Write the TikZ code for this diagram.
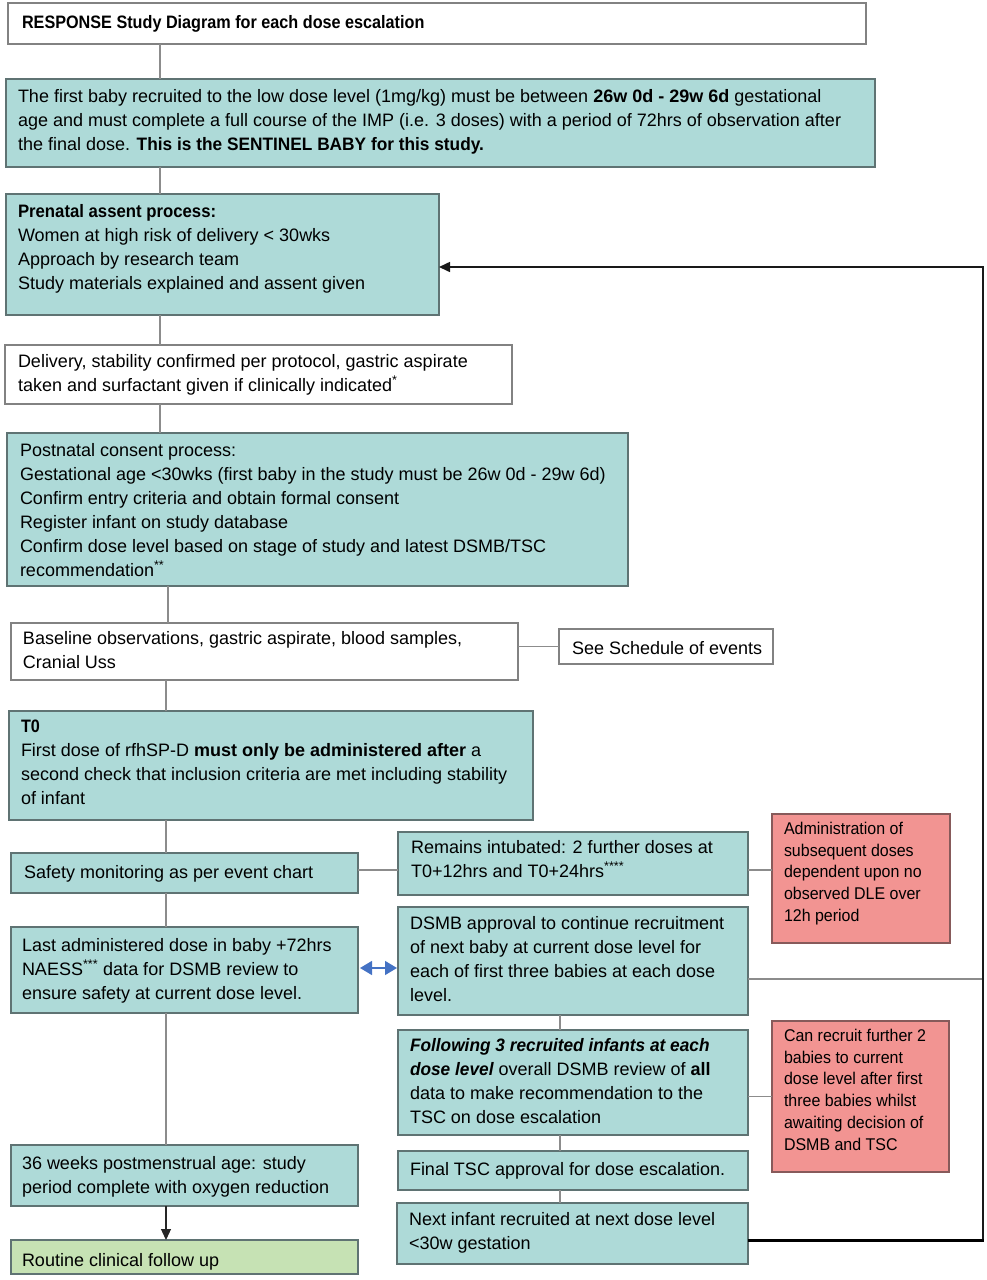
\documentclass[tikz,border=0pt]{standalone}
\usepackage{fontspec}
\setmainfont{Liberation Sans}
\newfontfamily\condA[FakeStretch=0.9]{Liberation Sans}
\newfontfamily\condB[FakeStretch=0.93]{Liberation Sans}
\newfontfamily\condC[FakeStretch=0.96]{Liberation Sans}
\newfontfamily\narrowfont[FakeStretch=0.94]{Liberation Sans}
\usetikzlibrary{arrows.meta}
\definecolor{tealfill}{RGB}{174,218,216}
\definecolor{tealline}{RGB}{95,115,115}
\definecolor{redfill}{RGB}{242,148,146}
\definecolor{redline}{RGB}{135,90,90}
\definecolor{greenfill}{RGB}{198,226,180}
\definecolor{greyline}{RGB}{130,130,130}
\definecolor{connline}{RGB}{140,140,140}
\definecolor{bluearrow}{RGB}{68,114,196}
\newcommand\mkbox[6]{\node[#2, anchor=north west, minimum width={#5-#3}, minimum height={#6-#4}] (#1) at (#3,-#4) {};}
\newcommand\mktext[5]{\node[#2, anchor=north west] (#1) at (#3,{-(#4-7)}) {#5};}
\begin{document}
\begin{tikzpicture}[x=1pt,y=1pt,
  basebox/.style={rectangle, inner sep=0pt, outer sep=0pt, line width=1.3pt},
  whitebox/.style={basebox, draw=greyline, fill=white},
  tealbox/.style={basebox, draw=tealline, fill=tealfill},
  redbox/.style={basebox, draw=redline, fill=redfill},
  greenbox/.style={basebox, draw=tealline, fill=greenfill},
  txt/.style={inner sep=0pt, outer sep=0pt, align=left, font={\fontsize{18}{24}\selectfont}, execute at begin node={\rule{0pt}{15pt}}},
  rtxt/.style={inner sep=0pt, outer sep=0pt, align=left, font={\narrowfont\fontsize{17}{21.75}\selectfont}, execute at begin node={\rule{0pt}{15pt}}},
  conn/.style={draw=connline, line width=1.2pt},
  loopline/.style={draw=black!90, line width=1.6pt},
  tip/.style={-{Triangle[length=11pt,width=10pt]}}
]
\useasboundingbox (0,0) rectangle (986,-1280);

% boxes
\mkbox{title}{whitebox}{8}{3}{866}{44}
\mkbox{sent}{tealbox}{6}{79}{875}{167}
\mkbox{pren}{tealbox}{6}{194}{439}{315}
\mkbox{deliv}{whitebox}{5}{345}{512}{404}
\mkbox{post}{tealbox}{7}{433}{628}{586}
\mkbox{base}{whitebox}{11}{623}{518}{680}
\mkbox{sched}{whitebox}{559}{629}{773}{664}
\mkbox{tzero}{tealbox}{9}{711}{533}{820}
\mkbox{safe}{tealbox}{11}{853}{358}{893}
\mkbox{rem}{tealbox}{398}{832}{748}{895}
\mkbox{adm}{redbox}{772}{814}{950}{943}
\mkbox{last}{tealbox}{11}{927}{358}{1013}
\mkbox{dsmb}{tealbox}{398}{907}{748}{1015}
\mkbox{foll}{tealbox}{398}{1030}{748}{1135}
\mkbox{can}{redbox}{772}{1021}{949}{1172}
\mkbox{wks}{tealbox}{11}{1145}{358}{1206}
\mkbox{final}{tealbox}{398}{1151}{748}{1190}
\mkbox{next}{tealbox}{397}{1203}{748}{1264}
\mkbox{rout}{greenbox}{11}{1240}{358}{1274}

% texts
\mktext{title-t}{txt}{22}{20}{{\condA\bfseries RESPONSE Study Diagram for each dose escalation}}
\mktext{sent-t}{txt}{18}{96}{The first baby recruited to the low dose level (1mg/kg) must be between \textbf{26w 0d - 29w 6d} gestational\\age and must complete a full course of the IMP (i.e. 3 doses) with a period of 72hrs of observation after\\the final dose. {\condC\bfseries This is the SENTINEL BABY for this study.}}
\mktext{pren-t}{txt}{18}{211}{{\condB\bfseries Prenatal assent process:}\\Women at high risk of delivery < 30wks\\Approach by research team\\Study materials explained and assent given}
\mktext{deliv-t}{txt}{18}{361}{Delivery, stability confirmed per protocol, gastric aspirate\\taken and surfactant given if clinically indicated\textsuperscript{*}}
\mktext{post-t}{txt}{20}{450}{Postnatal consent process:\\Gestational age <30wks (first baby in the study must be 26w 0d - 29w 6d)\\Confirm entry criteria and obtain formal consent\\Register infant on study database\\Confirm dose level based on stage of study and latest DSMB/TSC\\recommendation\textsuperscript{**}}
\mktext{base-t}{txt}{23}{638}{Baseline observations, gastric aspirate, blood samples,\\Cranial Uss}
\mktext{sched-t}{txt}{572}{646}{See Schedule of events}
\mktext{tzero-t}{txt}{21}{727}{{\condA\bfseries T0}\\First dose of rfhSP-D \textbf{must only be administered after} a\\second check that inclusion criteria are met including stability\\of infant}
\mktext{safe-t}{txt}{24}{870}{Safety monitoring as per event chart}
\mktext{rem-t}{txt}{411}{847}{Remains intubated: 2 further doses at\\T0+12hrs and T0+24hrs\textsuperscript{****}}
\mktext{adm-t}{rtxt}{784}{829}{Administration of\\subsequent doses\\dependent upon no\\observed DLE over\\12h period}
\mktext{last-t}{txt}{22}{945}{Last administered dose in baby +72hrs\\NAESS\textsuperscript{***} data for DSMB review to\\ensure safety at current dose level.}
\mktext{dsmb-t}{txt}{410}{923}{DSMB approval to continue recruitment\\of next baby at current dose level for\\each of first three babies at each dose\\level.}
\mktext{foll-t}{txt}{410}{1045}{{\condC\bfseries\itshape Following 3 recruited infants at each}\\{\condC\bfseries\itshape dose level} overall DSMB review of \textbf{all}\\data to make recommendation to the\\TSC on dose escalation}
\mktext{can-t}{rtxt}{784}{1036}{Can recruit further 2\\babies to current\\dose level after first\\three babies whilst\\awaiting decision of\\DSMB and TSC}
\mktext{wks-t}{txt}{22}{1163}{36 weeks postmenstrual age: study\\period complete with oxygen reduction}
\mktext{final-t}{txt}{410}{1167}{Final TSC approval for dose escalation.}
\mktext{next-t}{txt}{409}{1219}{Next infant recruited at next dose level\\<30w gestation}
\mktext{rout-t}{txt}{22}{1258}{Routine clinical follow up}

% helper coordinates
\coordinate (xa) at (160,0);
\coordinate (xb) at (168,0);
\coordinate (xc) at (166,0);
\coordinate (xd) at (560,0);
\coordinate (rt) at (983,-267);
\coordinate (rb) at (983,-1240);
\coordinate (ya) at (0,-870);
\coordinate (yb) at (0,-979);
\coordinate (yc) at (0,-968);

% vertical connectors
\draw[conn] (title.south -| xa) -- (sent.north -| xa);
\draw[conn] (sent.south -| xa) -- (pren.north -| xa);
\draw[conn] (pren.south -| xa) -- (deliv.north -| xa);
\draw[conn] (deliv.south -| xa) -- (post.north -| xa);
\draw[conn] (post.south -| xb) -- (base.north -| xb);
\draw[conn] (base.south -| xc) -- (tzero.north -| xc);
\draw[conn] (tzero.south -| xc) -- (safe.north -| xc);
\draw[conn] (safe.south -| xc) -- (last.north -| xc);
\draw[conn] (last.south -| xc) -- (wks.north -| xc);
\draw[draw=black!85, line width=1.2pt, tip] (wks.south -| xc) -- (rout.north -| xc);
\draw[conn] (dsmb.south -| xd) -- (foll.north -| xd);
\draw[conn] (foll.south -| xd) -- (final.north -| xd);
\draw[conn] (final.south -| xd) -- (next.north -| xd);

% horizontal connectors
\draw[conn] (base.east |- sched.west) -- (sched.west);
\draw[conn] (safe.east |- ya) -- (rem.west |- ya);
\draw[conn] (rem.east |- ya) -- (adm.west |- ya);
\draw[conn] (foll.east |- can.west) -- (can.west);
\draw[bluearrow, line width=1.4pt, {Triangle[length=12pt,width=14pt]}-{Triangle[length=12pt,width=14pt]}] ([xshift=2pt]last.east |- yc) -- ([xshift=-1pt]dsmb.west |- yc);
\draw[conn] (dsmb.east |- yb) -- (rt |- yb);

% feedback loop
\draw[loopline, tip] (rb) -- (rt) -- (rt -| pren.east);
\draw[draw=black, line width=3pt] (next.east |- rb) -- ([xshift=0.8pt]rb);
\end{tikzpicture}
\end{document}
